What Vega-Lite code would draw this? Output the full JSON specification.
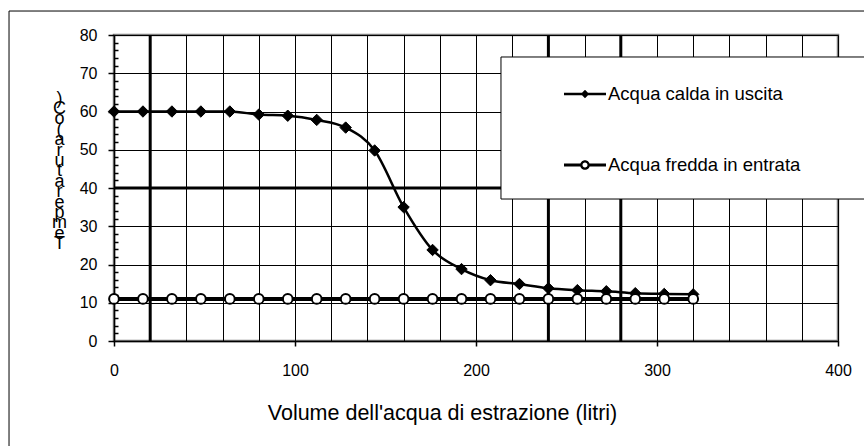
{
  "$schema": "https://vega.github.io/schema/vega-lite/v6.json",
  "width": 724,
  "height": 306,
  "autosize": {"type": "none"},
  "padding": {"left": 114, "top": 35, "right": 26, "bottom": 105},
  "background": "white",
  "config": {
    "font": "Liberation Sans",
    "view": {"stroke": "#808080", "strokeWidth": 2.5},
    "axis": {
      "domainColor": "black",
      "domainWidth": 1.5,
      "tickColor": "black",
      "tickWidth": 1.5,
      "labelColor": "black",
      "labelFont": "Liberation Sans",
      "labelFontSize": 16,
      "labelFlush": false,
      "labelOverlap": false,
      "gridColor": "black",
      "gridWidth": 1,
      "titleColor": "black",
      "titleFont": "Liberation Sans",
      "titleFontWeight": "normal"
    }
  },
  "datasets": {
    "serie": [
      {"litri": 0, "temp": 60, "serie": "Acqua calda in uscita"},
      {"litri": 16, "temp": 60, "serie": "Acqua calda in uscita"},
      {"litri": 32, "temp": 60, "serie": "Acqua calda in uscita"},
      {"litri": 48, "temp": 60, "serie": "Acqua calda in uscita"},
      {"litri": 64, "temp": 60, "serie": "Acqua calda in uscita"},
      {"litri": 80, "temp": 59.2, "serie": "Acqua calda in uscita"},
      {"litri": 96, "temp": 58.9, "serie": "Acqua calda in uscita"},
      {"litri": 112, "temp": 57.8, "serie": "Acqua calda in uscita"},
      {"litri": 128, "temp": 55.8, "serie": "Acqua calda in uscita"},
      {"litri": 144, "temp": 49.8, "serie": "Acqua calda in uscita"},
      {"litri": 160, "temp": 35.0, "serie": "Acqua calda in uscita"},
      {"litri": 176, "temp": 23.8, "serie": "Acqua calda in uscita"},
      {"litri": 192, "temp": 18.8, "serie": "Acqua calda in uscita"},
      {"litri": 208, "temp": 15.9, "serie": "Acqua calda in uscita"},
      {"litri": 224, "temp": 14.9, "serie": "Acqua calda in uscita"},
      {"litri": 240, "temp": 13.8, "serie": "Acqua calda in uscita"},
      {"litri": 256, "temp": 13.3, "serie": "Acqua calda in uscita"},
      {"litri": 272, "temp": 13.0, "serie": "Acqua calda in uscita"},
      {"litri": 288, "temp": 12.5, "serie": "Acqua calda in uscita"},
      {"litri": 304, "temp": 12.3, "serie": "Acqua calda in uscita"},
      {"litri": 320, "temp": 12.2, "serie": "Acqua calda in uscita"},
      {"litri": 0, "temp": 11, "serie": "Acqua fredda in entrata"},
      {"litri": 16, "temp": 11, "serie": "Acqua fredda in entrata"},
      {"litri": 32, "temp": 11, "serie": "Acqua fredda in entrata"},
      {"litri": 48, "temp": 11, "serie": "Acqua fredda in entrata"},
      {"litri": 64, "temp": 11, "serie": "Acqua fredda in entrata"},
      {"litri": 80, "temp": 11, "serie": "Acqua fredda in entrata"},
      {"litri": 96, "temp": 11, "serie": "Acqua fredda in entrata"},
      {"litri": 112, "temp": 11, "serie": "Acqua fredda in entrata"},
      {"litri": 128, "temp": 11, "serie": "Acqua fredda in entrata"},
      {"litri": 144, "temp": 11, "serie": "Acqua fredda in entrata"},
      {"litri": 160, "temp": 11, "serie": "Acqua fredda in entrata"},
      {"litri": 176, "temp": 11, "serie": "Acqua fredda in entrata"},
      {"litri": 192, "temp": 11, "serie": "Acqua fredda in entrata"},
      {"litri": 208, "temp": 11, "serie": "Acqua fredda in entrata"},
      {"litri": 224, "temp": 11, "serie": "Acqua fredda in entrata"},
      {"litri": 240, "temp": 11, "serie": "Acqua fredda in entrata"},
      {"litri": 256, "temp": 11, "serie": "Acqua fredda in entrata"},
      {"litri": 272, "temp": 11, "serie": "Acqua fredda in entrata"},
      {"litri": 288, "temp": 11, "serie": "Acqua fredda in entrata"},
      {"litri": 304, "temp": 11, "serie": "Acqua fredda in entrata"},
      {"litri": 320, "temp": 11, "serie": "Acqua fredda in entrata"}
    ],
    "vlinee": [{"litri": 20}, {"litri": 240}, {"litri": 280}],
    "hlinee": [{"temp": 40}],
    "cornice": [{"k": 1}]
  },
  "layer": [
    {
      "data": {"name": "cornice"},
      "mark": {"type": "rect", "filled": false, "stroke": "black", "strokeWidth": 1},
      "encoding": {
        "x": {"datum": -58, "type": "quantitative", "scale": {"domain": [0, 400], "nice": false, "zero": false}},
        "x2": {"datum": 430},
        "y": {"datum": 86.27, "type": "quantitative", "scale": {"domain": [0, 80], "nice": false, "zero": false}},
        "y2": {"datum": -35}
      }
    },
    {
      "data": {"name": "vlinee"},
      "mark": {"type": "rule", "color": "black", "strokeWidth": 3},
      "encoding": {
        "x": {"field": "litri", "type": "quantitative"}
      }
    },
    {
      "data": {"name": "hlinee"},
      "mark": {"type": "rule", "color": "black", "strokeWidth": 3},
      "encoding": {
        "y": {"field": "temp", "type": "quantitative"}
      }
    },
    {
      "data": {"name": "cornice"},
      "mark": {"type": "rect", "fill": "white", "stroke": "black", "strokeWidth": 1},
      "encoding": {
        "x": {"datum": 213.8, "type": "quantitative"},
        "x2": {"datum": 430},
        "y": {"datum": 74.25, "type": "quantitative"},
        "y2": {"datum": 37.12}
      }
    },
    {
      "data": {"name": "serie"},
      "mark": {"type": "line", "color": "black", "interpolate": "monotone"},
      "encoding": {
        "x": {
          "field": "litri", "type": "quantitative",
          "axis": {
            "values": [0, 20, 40, 60, 80, 100, 120, 140, 160, 180, 200, 220, 240, 260, 280, 300, 320, 340, 360, 380, 400],
            "tickCount": 100,
            "grid": true,
            "labelOverlap": false,
            "labelExpr": "datum.value % 100 === 0 ? datum.label : ''",
            "tickSize": {"condition": {"test": "datum.value % 100 === 0", "value": 5}, "value": 0},
            "labelPadding": 16,
            "title": "Volume dell'acqua di estrazione (litri)",
            "titleFontSize": 21.5,
            "titleX": 328,
            "titleY": 72,
            "titleAlign": "center",
            "titleBaseline": "middle"
          }
        },
        "y": {
          "field": "temp", "type": "quantitative",
          "axis": {
            "values": [0, 2, 4, 6, 8, 10, 12, 14, 16, 18, 20, 22, 24, 26, 28, 30, 32, 34, 36, 38, 40, 42, 44, 46, 48, 50, 52, 54, 56, 58, 60, 62, 64, 66, 68, 70, 72, 74, 76, 78, 80],
            "tickCount": 100,
            "grid": true,
            "labelOverlap": false,
            "gridOpacity": {"condition": {"test": "datum.value % 10 === 0", "value": 1}, "value": 0},
            "labelExpr": "datum.value % 10 === 0 ? datum.label : ''",
            "tickSize": {"condition": {"test": "datum.value % 10 === 0", "value": 6}, "value": -4},
            "labelPadding": 11,
            "title": [")", "C", "o", "(", "a", "r", "u", "t", "a", "r", "e", "p", "m", "e", "T"],
            "titleAngle": 0,
            "titleFontSize": 18,
            "titleLineHeight": 10.4,
            "titleX": -55,
            "titleY": 63,
            "titleAlign": "center",
            "titleBaseline": "middle"
          }
        },
        "detail": {"field": "serie"},
        "strokeWidth": {"field": "serie", "type": "nominal", "scale": {"range": [2.5, 4]}, "legend": null}
      }
    },
    {
      "data": {"name": "serie"},
      "mark": {"type": "point", "filled": true, "stroke": "black", "opacity": 1},
      "encoding": {
        "x": {"field": "litri", "type": "quantitative"},
        "y": {"field": "temp", "type": "quantitative"},
        "shape": {"field": "serie", "type": "nominal", "scale": {"range": ["diamond", "circle"]}, "legend": null},
        "fill": {"field": "serie", "type": "nominal", "scale": {"range": ["black", "white"]}, "legend": null},
        "size": {"field": "serie", "type": "nominal", "scale": {"range": [130, 95]}, "legend": null},
        "strokeWidth": {"field": "serie", "type": "nominal", "scale": {"range": [1, 2]}, "legend": null}
      }
    },
    {
      "data": {"name": "serie"},
      "transform": [{"filter": "false"}],
      "mark": {"type": "point", "filled": true, "color": "black", "opacity": 1},
      "encoding": {
        "shape": {
          "field": "serie", "type": "nominal",
          "scale": {
            "domain": ["Acqua calda in uscita", "Acqua fredda in entrata"],
            "range": [
              "M-1,-0.06H1V0.06H-1Z M0,-0.2L0.2,0L0,0.2L-0.2,0Z",
              "M-1,-0.07H-0.22V0.07H-1Z M0.22,-0.07H1V0.07H0.22Z M0.23,0A0.23,0.23,0,1,1,-0.23,0A0.23,0.23,0,1,1,0.23,0Z M0.12,0A0.12,0.12,0,1,0,-0.12,0A0.12,0.12,0,1,0,0.12,0Z"
            ]
          },
          "legend": {
            "title": null,
            "orient": "none",
            "legendX": 449,
            "legendY": 37,
            "padding": 0,
            "symbolSize": 1764,
            "labelFontSize": 18.5,
            "labelFont": "Liberation Sans",
            "labelColor": "black",
            "labelOffset": 1,
            "rowPadding": 39,
            "labelLimit": 400
          }
        }
      }
    }
  ],
  "resolve": {"scale": {"strokeWidth": "independent", "size": "independent", "shape": "independent", "fill": "independent"}}
}
